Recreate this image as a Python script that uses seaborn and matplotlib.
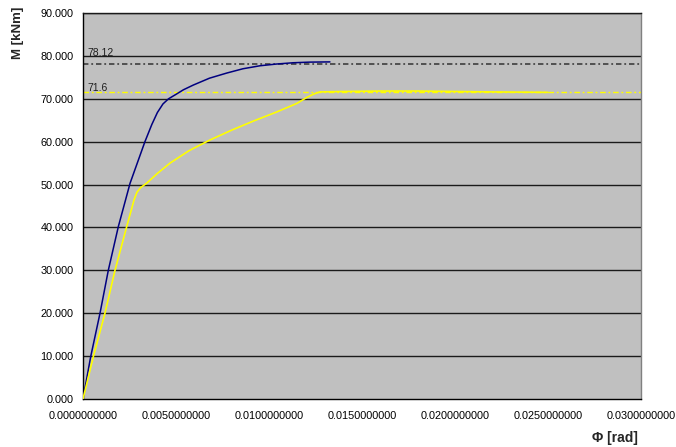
import matplotlib
matplotlib.use("Agg")
import matplotlib.pyplot as plt
import matplotlib.ticker as mticker
import seaborn as sns
import pandas as pd

# Moment-curvature curves
phi_a = [0.0, 0.000414, 0.000914, 0.00136, 0.0019, 0.00253, 0.00333, 0.00370, 0.00400,
         0.00430, 0.00460, 0.00495, 0.00540, 0.00593, 0.00680, 0.00773, 0.00860,
         0.00952, 0.01040, 0.0113, 0.0122, 0.01328]
m_a = [0.0, 9.9, 20.0, 30.0, 40.2, 50.3, 60.0, 64.0, 66.8,
       68.8, 70.0, 70.9, 72.1, 73.2, 74.8, 76.0, 77.0,
       77.7, 78.1, 78.4, 78.55, 78.6]

phi_b = [0.0, 0.000556, 0.00118, 0.00172, 0.00235, 0.00275, 0.00290, 0.00310, 0.00342,
         0.00400, 0.00468, 0.00570, 0.00683, 0.00800, 0.00916, 0.01040, 0.01149, 0.01203,
         0.01240, 0.01274, 0.0140, 0.0160, 0.0180, 0.0200, 0.0220, 0.0250]
m_b = [0.0, 9.9, 20.0, 30.0, 40.2, 46.5, 48.2, 49.3, 50.3,
       52.6, 55.0, 57.9, 60.4, 62.7, 64.8, 66.9, 68.9, 70.3,
       71.1, 71.6, 71.7, 71.8, 71.8, 71.7, 71.6, 71.5]

ref_values = [78.12, 71.6]
ref_labels = ["78.12", "71.6"]
ref_label_y = [80.0, 71.8]

x_ticks = [0.0, 0.005, 0.010, 0.015, 0.020, 0.025, 0.030]
y_ticks = [0, 10, 20, 30, 40, 50, 60, 70, 80, 90]

df_a = pd.DataFrame({"phi": phi_a, "M": m_a})
df_b = pd.DataFrame({"phi": phi_b, "M": m_b})

sns.set_style("white")
plt.rcParams["font.family"] = ["Liberation Sans", "DejaVu Sans"]

fig = plt.figure(figsize=(6.76, 4.47), dpi=100)
ax = fig.add_axes([0.1228, 0.1074, 0.948 - 0.1228, 0.9709 - 0.1074])
ax.set_facecolor("#C0C0C0")

for y in y_ticks[1:]:
    ax.axhline(y, color="#1a1a1a", lw=1.0, zorder=1)

ax.axhline(ref_values[0], color="#484848", lw=1.3, ls=(0, (3, 1.6, 1, 1.6)), zorder=2)
ax.axhline(ref_values[1], color="#FFFF00", lw=1.0, ls=(0, (4, 2, 1.3, 2)), zorder=2)
for yl, lab in zip(ref_label_y, ref_labels):
    ax.text(0.00022, yl, lab, fontsize=7.5, color="#202020", va="baseline", ha="left")

sns.lineplot(data=df_a, x="phi", y="M", sort=False, color="#000080", lw=1.1, ax=ax, zorder=3)
sns.lineplot(data=df_b, x="phi", y="M", sort=False, color="#FFFF00", lw=1.2, ax=ax, zorder=3)

ax.set_xlim(0, 0.030)
ax.set_ylim(0, 90)
ax.set_xticks(x_ticks)
ax.set_yticks(y_ticks)
ax.xaxis.set_major_formatter(mticker.FormatStrFormatter("%.10f"))
ax.yaxis.set_major_formatter(mticker.FormatStrFormatter("%.3f"))
ax.tick_params(axis="both", labelsize=7.8, length=4, width=1, direction="out",
               colors="black", pad=3)
ax.tick_params(axis="x", pad=5)
for lab in ax.get_xticklabels():
    lab.set_clip_on(False)

ax.spines["left"].set_color("black")
ax.spines["bottom"].set_color("black")
ax.spines["right"].set_color("#808080")
ax.spines["top"].set_color("#1a1a1a")
for s in ax.spines.values():
    s.set_linewidth(1.0)

ax.set_xlabel("")
ax.set_ylabel("")
fig.text(0.026, 0.927, "M [kNm]", rotation=90, fontsize=9.5, fontweight="bold",
         ha="center", va="center")
fig.text(0.909, 0.021, "Φ [rad]", fontsize=10, fontweight="bold", ha="center", va="center")

fig.savefig("out.png", dpi=100)
